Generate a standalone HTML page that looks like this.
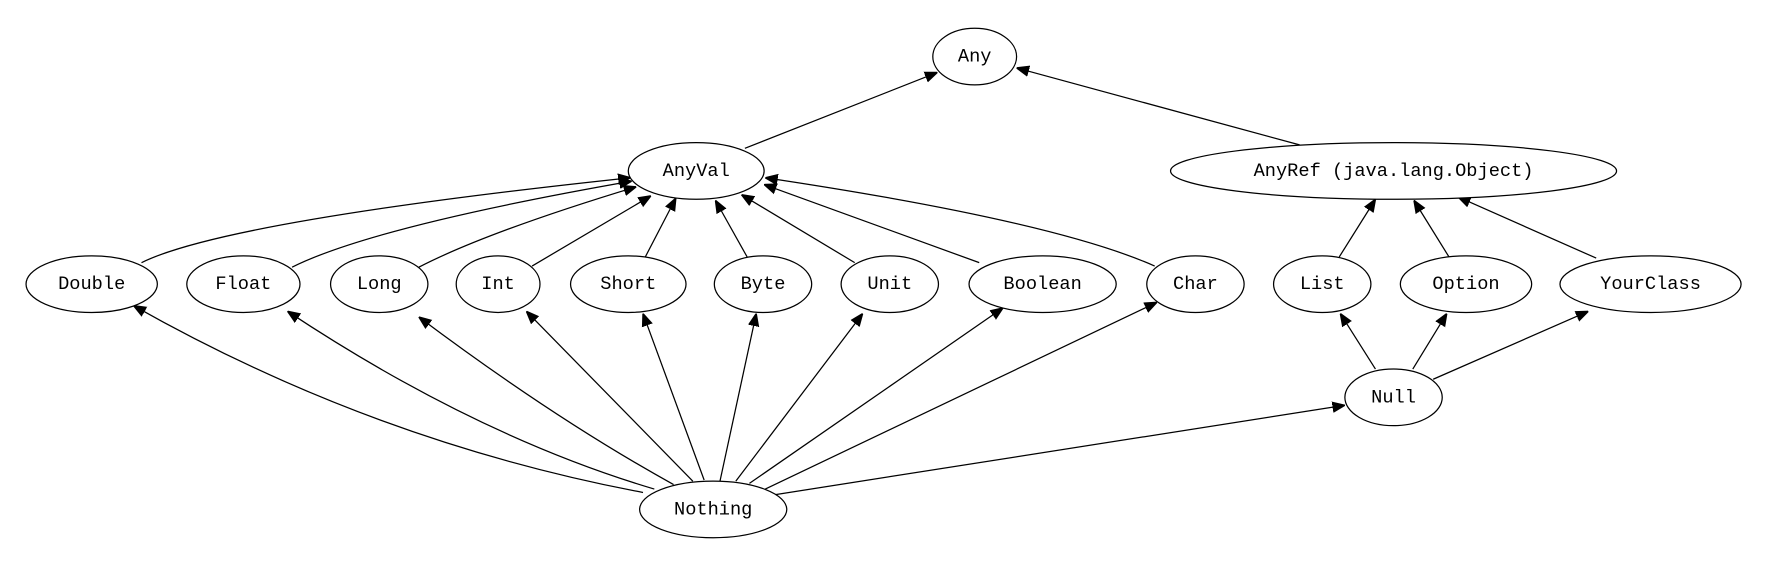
<!DOCTYPE html>
<html><head><meta charset="utf-8"><style>
html,body{margin:0;padding:0;background:#fff;}
svg{display:block;}
text{font-family:"Liberation Mono",monospace;font-size:16.5px;fill:#000;text-anchor:middle;dominant-baseline:central;}
ellipse{fill:#fff;stroke:#000;stroke-width:1.1;}
path,line{stroke:#000;stroke-width:1.1;fill:none;}
</style></head><body>
<svg width="1766" height="570" viewBox="0 0 1560 503.5" preserveAspectRatio="none">
<defs><marker id="a" viewBox="0 0 10 10" refX="10" refY="5" markerWidth="11" markerHeight="11" markerUnits="userSpaceOnUse" orient="auto"><path d="M0,1 L10,5 L0,9 z" style="fill:#000;stroke:#000"/></marker></defs>
<g marker-end="url(#a)">
<line x1="658" y1="131" x2="828" y2="64"/>
<line x1="1148" y1="128" x2="898" y2="60"/>
<path d="M125,232 Q200,195 557,157"/>
<path d="M258,236 Q330,200 558,160"/>
<path d="M370,236 Q430,205 562,165"/>
<line x1="470" y1="235" x2="575" y2="173"/>
<line x1="570" y1="227" x2="597" y2="175"/>
<line x1="660" y1="227" x2="632" y2="177"/>
<line x1="755" y1="232" x2="655" y2="172"/>
<line x1="865" y1="232" x2="675" y2="163"/>
<path d="M1020,235 Q930,195 676,157"/>
<line x1="1183" y1="227" x2="1215" y2="176"/>
<line x1="1280" y1="227" x2="1249" y2="177"/>
<line x1="1410" y1="228" x2="1288" y2="174"/>
<line x1="1215" y1="326" x2="1184" y2="277"/>
<line x1="1248" y1="326" x2="1278" y2="277"/>
<line x1="1266" y1="335" x2="1403" y2="275"/>
<line x1="678" y1="438" x2="1188" y2="358"/>
<path d="M568,435 Q330,390 118,270"/>
<path d="M578,432 Q420,385 254,275"/>
<path d="M595,428 Q490,370 370,280"/>
<line x1="612" y1="425" x2="465" y2="275"/>
<line x1="622" y1="424" x2="568" y2="277"/>
<line x1="636" y1="425" x2="668" y2="277"/>
<line x1="650" y1="425" x2="762" y2="277"/>
<line x1="662" y1="427" x2="886" y2="272"/>
<line x1="676" y1="432" x2="1022" y2="267"/>
</g>
<ellipse cx="861" cy="50" rx="37" ry="25"/><text x="861" y="50">Any</text>
<ellipse cx="615" cy="151" rx="60" ry="25"/><text x="615" y="151">AnyVal</text>
<ellipse cx="1231" cy="151" rx="197" ry="25"/><text x="1231" y="151">AnyRef (java.lang.Object)</text>
<ellipse cx="81" cy="251" rx="58" ry="25"/><text x="81" y="251">Double</text>
<ellipse cx="215" cy="251" rx="50" ry="25"/><text x="215" y="251">Float</text>
<ellipse cx="335" cy="251" rx="43" ry="25"/><text x="335" y="251">Long</text>
<ellipse cx="440" cy="251" rx="37" ry="25"/><text x="440" y="251">Int</text>
<ellipse cx="555" cy="251" rx="51" ry="25"/><text x="555" y="251">Short</text>
<ellipse cx="674" cy="251" rx="43" ry="25"/><text x="674" y="251">Byte</text>
<ellipse cx="786" cy="251" rx="43" ry="25"/><text x="786" y="251">Unit</text>
<ellipse cx="921" cy="251" rx="65" ry="25"/><text x="921" y="251">Boolean</text>
<ellipse cx="1056" cy="251" rx="43" ry="25"/><text x="1056" y="251">Char</text>
<ellipse cx="1168" cy="251" rx="43" ry="25"/><text x="1168" y="251">List</text>
<ellipse cx="1295" cy="251" rx="58" ry="25"/><text x="1295" y="251">Option</text>
<ellipse cx="1458" cy="251" rx="80" ry="25"/><text x="1458" y="251">YourClass</text>
<ellipse cx="1231" cy="351" rx="43" ry="25"/><text x="1231" y="351">Null</text>
<ellipse cx="630" cy="450" rx="65" ry="25"/><text x="630" y="450">Nothing</text>
</svg>
</body></html>
